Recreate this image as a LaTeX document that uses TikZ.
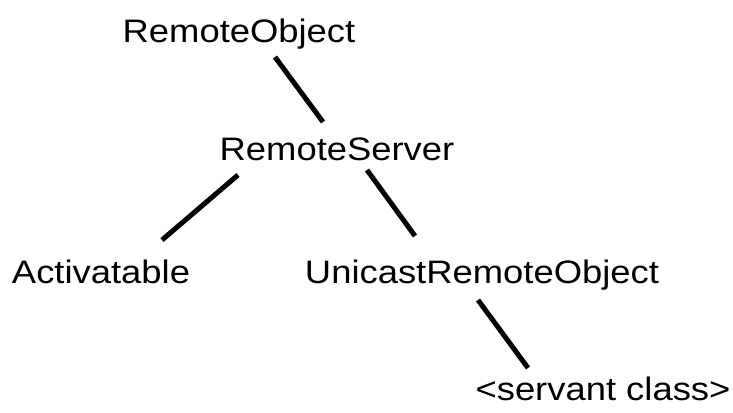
\documentclass[tikz,border=0pt]{standalone}
\usepackage{fontspec}
\setmainfont{Liberation Sans}[FakeStretch=1.12]
\usepackage{tikz}
\usetikzlibrary{calc}
\tikzstyle{cls} = [inner sep=0pt, anchor=base, font=\fontsize{32.5}{36}\selectfont, text=black]
\tikzstyle{link} = [line width=5pt, black]

\begin{document}
\begin{tikzpicture}[x=1pt, y=-1pt]
\useasboundingbox[fill=white] (0,0) rectangle (733,412);
\node (ro) [cls] at (239,43) {RemoteObject};
\node (rs) [cls] at (337,160) {RemoteServer};
\node (act) [cls] at (101,283) {Activatable};
\node (uro) [cls] at (482,283) {UnicastRemoteObject};
\node (sc) [cls] at (603,400) {<servant class>};
\draw [link] ($(ro.base)+(36,14)$) -- ($(rs.base)+(-14,-38)$);
\draw [link] ($(rs.base)+(-99,15)$) -- ($(act.base)+(61,-43)$);
\draw [link] ($(rs.base)+(30,10)$) -- ($(uro.base)+(-67,-47)$);
\draw [link] ($(uro.base)+(-4,17)$) -- ($(sc.base)+(-75,-32)$);
\end{tikzpicture}
\end{document}
